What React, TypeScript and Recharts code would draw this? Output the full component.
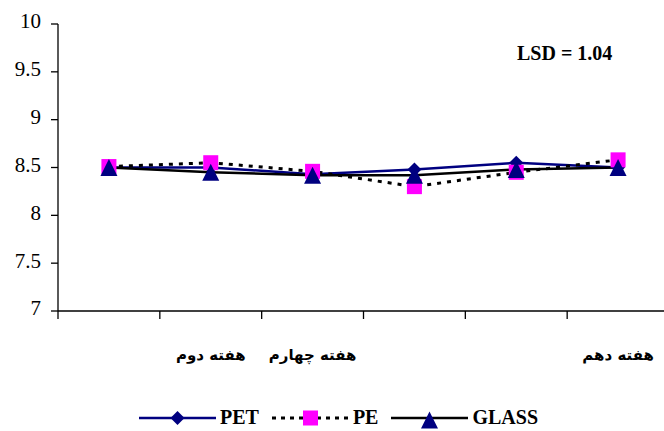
import React from "react";
import { LineChart, Line, XAxis, YAxis, Legend } from "recharts";

const weekLabels = ["", "هفته دوم", "هفته چهارم", "", "", "هفته دهم"];
const pet = [8.5, 8.5, 8.43, 8.48, 8.55, 8.5];
const pe = [8.51, 8.55, 8.46, 8.3, 8.45, 8.58];
const glass = [8.5, 8.45, 8.42, 8.42, 8.48, 8.5];
const yTicks = [7, 7.5, 8, 8.5, 9, 9.5, 10];

const NAVY = "#000080";
const PINK = "#ff00ff";
const SERIF = "'Liberation Serif', 'Times New Roman', serif";

const data = weekLabels.map((w, i) => ({
  pos: i + 0.5,
  week: w,
  PET: pet[i],
  PE: pe[i],
  GLASS: glass[i],
}));

const boundTicks = weekLabels.map((_, i) => i).concat(weekLabels.length);
const centerTicks = weekLabels.map((_, i) => i + 0.5);

function Diamond({ cx, cy, r = 7 }: any) {
  return (
    <path
      d={`M${cx},${cy - r} L${cx + r},${cy} L${cx},${cy + r} L${cx - r},${cy} Z`}
      fill={NAVY}
    />
  );
}

function Square({ cx, cy, s = 15 }: any) {
  return <rect x={cx - s / 2} y={cy - s / 2} width={s} height={s} fill={PINK} />;
}

function Triangle({ cx, cy, s = 17 }: any) {
  const h = s;
  return (
    <path
      d={`M${cx},${cy - h / 2} L${cx + s / 2},${cy + h / 2} L${cx - s / 2},${cy + h / 2} Z`}
      fill={NAVY}
    />
  );
}

function LegendContent() {
  const items = [
    { name: "PET", stroke: NAVY, dash: undefined, Mark: Diamond },
    { name: "PE", stroke: "#000", dash: "4 5", Mark: Square },
    { name: "GLASS", stroke: "#000", dash: undefined, Mark: Triangle },
  ];
  return (
    <div style={{ display: "flex", alignItems: "center", paddingLeft: 139 }}>
      {items.map((it) => (
        <div key={it.name} style={{ display: "flex", alignItems: "center", marginRight: 13 }}>
          <svg width={77} height={22}>
            <line
              x1={0}
              x2={77}
              y1={11}
              y2={11}
              stroke={it.stroke}
              strokeWidth={it.dash ? 3 : 2.5}
              strokeDasharray={it.dash}
            />
            <it.Mark cx={38.5} cy={it.name === "GLASS" ? 13 : 11} />
          </svg>
          <span
            style={{
              fontFamily: SERIF,
              fontWeight: "bold",
              fontSize: 20,
              color: "#000",
              marginLeft: 4,
            }}
          >
            {it.name}
          </span>
        </div>
      ))}
    </div>
  );
}

export default function App() {
  return (
    <div
      style={{
        position: "absolute",
        top: 0,
        left: 0,
        width: 664,
        height: 431,
        overflow: "hidden",
        background: "#fff",
      }}
    >
      <LineChart
        width={669}
        height={431}
        data={data}
        margin={{ top: 24, right: 0, left: 0, bottom: 50 }}
      >
        <XAxis
          xAxisId="bounds"
          dataKey="pos"
          type="number"
          domain={[0, weekLabels.length]}
          ticks={boundTicks}
          tick={() => <g />}
          tickSize={8}
          height={10}
          interval={0}
          axisLine={{ stroke: "#000", strokeWidth: 1.3 }}
          tickLine={{ stroke: "#000", strokeWidth: 1.3 }}
        />
        <XAxis
          xAxisId="labels"
          dataKey="pos"
          type="number"
          domain={[0, weekLabels.length]}
          ticks={centerTicks}
          tickFormatter={(v: number) => weekLabels[Math.floor(v)]}
          axisLine={false}
          tickLine={false}
          tickSize={0}
          tickMargin={28}
          height={60}
          interval={0}
          tick={{
            fill: "#000",
            fontSize: 15,
            fontWeight: "bold",
            fontFamily: "'DejaVu Sans', Arial, sans-serif",
          }}
        />
        <YAxis
          type="number"
          domain={[7, 10]}
          ticks={yTicks}
          width={58}
          tickSize={7}
          tickMargin={10}
          interval={0}
          axisLine={{ stroke: "#000", strokeWidth: 1.3 }}
          tickLine={{ stroke: "#000", strokeWidth: 1.3 }}
          tick={{ fill: "#000", fontSize: 21, fontFamily: SERIF, dy: -3 }}
        />
        <Legend
          verticalAlign="middle"
          layout="horizontal"
          wrapperStyle={{ top: 406, left: 0, width: 664 }}
          content={() => <LegendContent />}
        />
        <Line
          xAxisId="bounds"
          dataKey="PET"
          stroke={NAVY}
          strokeWidth={2.5}
          isAnimationActive={false}
          dot={(p: any) => <Diamond key={`pet-${p.index}`} cx={p.cx} cy={p.cy} />}
        />
        <Line
          xAxisId="bounds"
          dataKey="PE"
          stroke="#000"
          strokeWidth={3}
          strokeDasharray="4 6"
          isAnimationActive={false}
          dot={(p: any) => <Square key={`pe-${p.index}`} cx={p.cx} cy={p.cy} />}
        />
        <Line
          xAxisId="bounds"
          dataKey="GLASS"
          stroke="#000"
          strokeWidth={2.5}
          isAnimationActive={false}
          dot={(p: any) => <Triangle key={`gl-${p.index}`} cx={p.cx} cy={p.cy} />}
        />
      </LineChart>
      <div
        style={{
          position: "absolute",
          left: 517,
          top: 42,
          fontFamily: SERIF,
          fontWeight: "bold",
          fontSize: 20,
          color: "#000",
          whiteSpace: "nowrap",
        }}
      >
        LSD = 1.04
      </div>
    </div>
  );
}
